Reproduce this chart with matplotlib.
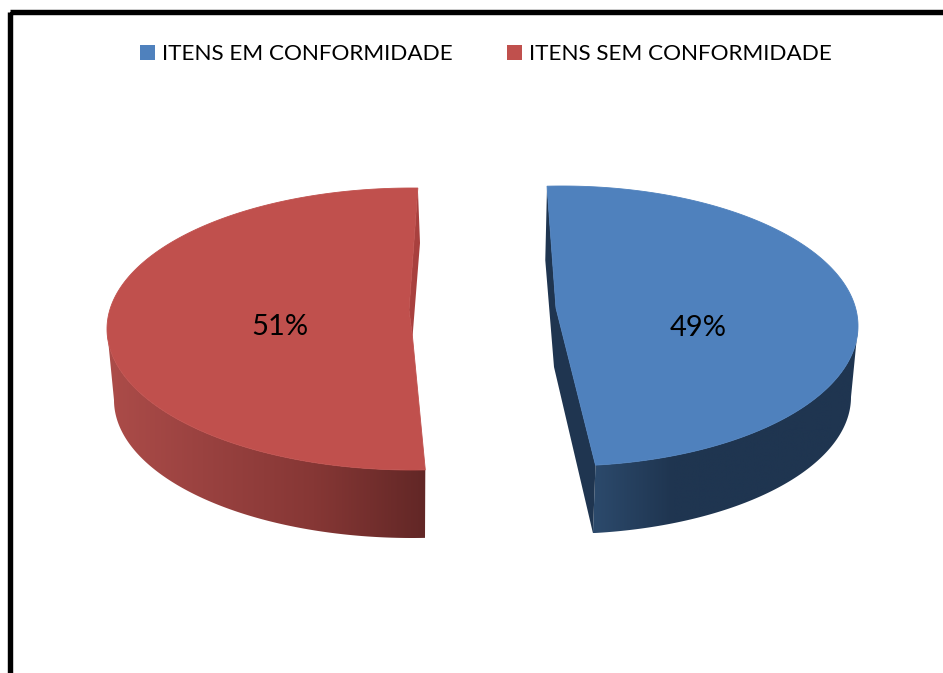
"""Exploded 3D-look pie chart, conformity of items."""

import matplotlib

matplotlib.use("Agg")
import matplotlib.pyplot as plt
import numpy as np
from matplotlib.colors import LinearSegmentedColormap
from matplotlib.patches import Polygon, Rectangle

categories = ["ITENS EM CONFORMIDADE", "ITENS SEM CONFORMIDADE"]
shares = [49, 51]

BLUE = "#4F81BD"
RED = "#C0504D"
BLUE_DARK = "#1F3550"
RED_WALL = "#A8403E"

plt.rcParams["font.family"] = ["Lato", "DejaVu Sans"]


def arc(cx, cy, rx, ry, t0, t1, n=200):
    t = np.radians(np.linspace(t0, t1, n))
    return np.column_stack([cx + rx * np.cos(t), cy + ry * np.sin(t)])


def gradient_wall(ax, pts, stops):
    poly = Polygon(pts, closed=True, facecolor="none", edgecolor="none")
    ax.add_patch(poly)
    cmap = LinearSegmentedColormap.from_list("wall", stops)
    x0, x1 = pts[:, 0].min(), pts[:, 0].max()
    y0, y1 = pts[:, 1].min(), pts[:, 1].max()
    im = ax.imshow(
        np.linspace(0, 1, 256).reshape(1, -1),
        extent=(x0, x1, y1, y0),
        cmap=cmap,
        aspect="auto",
        zorder=2,
    )
    im.set_clip_path(poly)


fig = plt.figure(figsize=(9.43, 6.73), dpi=100)
ax = fig.add_axes([0, 0, 1, 1])

# sweep of each slice comes from its share
blue_sweep = 360 * shares[0] / sum(shares)
red_sweep = 360 * shares[1] / sum(shares)

# blue slice, right side. y axis points down so angles run clockwise on screen
b_top = (562, 326, 296, 140)
b_bot = (560, 397, 291, 137)
b_start = -92.9
b_end = b_start + blue_sweep
b_apex = np.array([556, 308])
b_apex_low = b_apex + np.array([-2, 59])

top_arc = arc(*b_top, b_start, b_end)
wall = np.vstack([arc(*b_top, 0, b_end), arc(*b_bot, b_end, 0)])
gradient_wall(ax, wall, [(0.0, "#2C4A6C"), (0.3, BLUE_DARK), (1.0, BLUE_DARK)])
cut = np.vstack(
    [arc(*b_top, b_start, b_start, 1), arc(*b_bot, b_start, b_start, 1), [b_apex_low],
     arc(*b_bot, b_end, b_end, 1), arc(*b_top, b_end, b_end, 1), [b_apex]]
)
ax.add_patch(Polygon(cut, closed=True, facecolor=BLUE_DARK, edgecolor="none", zorder=3))
ax.add_patch(Polygon(np.vstack([top_arc, [b_apex]]), closed=True, facecolor=BLUE, edgecolor=BLUE, linewidth=0.6, zorder=4))

# red slice, left side
r_top = (412, 329, 305, 141)
r_bot = (412, 400, 298, 138)
r_start = -88.9
r_end = r_start - red_sweep
r_apex = np.array([409, 310])
r_apex_low = np.array([412.5, 337])
r_back = np.array([420, 243])

top_arc = arc(*r_top, r_start, r_end)
wall = np.vstack([arc(*r_top, -180, r_end), arc(*r_bot, r_end, -180)])
gradient_wall(ax, wall, [(0.0, "#AC4C49"), (0.3, "#9A4240"), (0.65, "#863735"), (1.0, "#622726")])
inner = np.vstack([arc(*r_top, r_start, r_start, 1), [r_back], [r_apex_low], [r_apex]])
ax.add_patch(Polygon(inner, closed=True, facecolor=RED_WALL, edgecolor="none", zorder=3))
ax.add_patch(Polygon(np.vstack([top_arc, [r_apex_low], [r_apex]]), closed=True, facecolor=RED, edgecolor=RED, linewidth=0.6, zorder=4))

# value labels
ax.text(698, 336, f"{shares[0]}%", fontsize=21, ha="center", va="baseline", color="black", zorder=5)
ax.text(280, 335, f"{shares[1]}%", fontsize=21, ha="center", va="baseline", color="black", zorder=5)

# legend
ax.add_patch(Rectangle((140, 45), 15, 15, facecolor=BLUE, edgecolor="none"))
ax.text(162, 60, categories[0], fontsize=16.2, ha="left", va="baseline", color="black")
ax.add_patch(Rectangle((507, 45), 15, 15, facecolor=RED, edgecolor="none"))
ax.text(529, 60, categories[1], fontsize=16.2, ha="left", va="baseline", color="black")

# chart border runs off the right and bottom edges
ax.add_patch(Rectangle((10.4, 12.4), 1000, 1000, facecolor="none", edgecolor="black", linewidth=3.9, joinstyle="round", zorder=6))

ax.set_xlim(0, 943)
ax.set_ylim(673, 0)
ax.axis("off")
fig.savefig("out.png", dpi=100)
plt.close(fig)
